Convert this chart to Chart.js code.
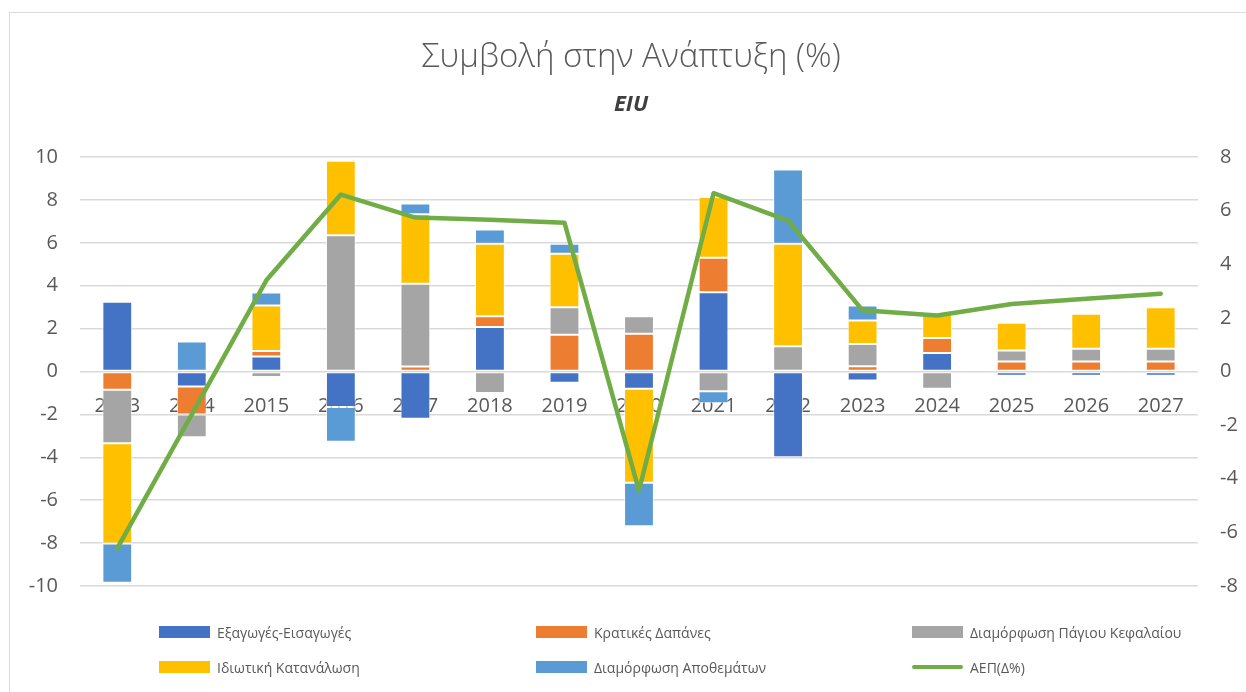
<!DOCTYPE html>
<html>
<head>
<meta charset="utf-8">
<script src="https://cdn.jsdelivr.net/npm/chart.js@4.4.0/dist/chart.umd.min.js"></script>
<style>
  body { margin: 0; background: #fff; font-family: "Open Sans", sans-serif; }
  #wrap { position: relative; width: 1246px; height: 692px; overflow: hidden; }
  #frame { position: absolute; left: 9px; top: 12px; width: 1300px; height: 800px;
           border-left: 1.5px solid #d9d9d9; border-top: 1.5px solid #d9d9d9; pointer-events: none; }
  .lg { position: absolute; height: 20px; display: flex; align-items: center; color: #595959; font-size: 14px; }
  .lg span.box { display: inline-block; width: 51px; height: 12px; margin-right: 7px; }
  .lg span.ln { display: inline-block; width: 51px; height: 4px; border-radius: 2px; margin-right: 7px; }
</style>
</head>
<body>
<div id="wrap">
  <canvas id="growthChart" width="1246" height="692"></canvas>
  <div id="frame"></div>
  <div id="legend"></div>
</div>
<script>
let years = ['2013', '2014', '2015', '2016', '2017', '2018', '2019', '2020', '2021', '2022', '2023', '2024', '2025', '2026', '2027']

let exportsImports = [3.25, -0.7, 0.7, -1.65, -2.2, 2.07, -0.53, -0.8, 3.7, -4.0, -0.42, 0.86, -0.2, -0.2, -0.2]
let govSpending = [-0.85, -1.3, 0.25, 0, 0.23, 0.51, 1.71, 1.76, 1.6, 0, 0.25, 0.7, 0.47, 0.47, 0.47]
let fixedCapital = [-2.5, -1.06, -0.26, 6.35, 3.86, -1.0, 1.29, 0.82, -0.92, 1.18, 1.03, -0.8, 0.51, 0.59, 0.59]
let privateConsumption = [-4.67, -0.05, 2.13, 3.47, 3.24, 3.37, 2.49, -4.39, 2.83, 4.77, 1.1, 1.13, 1.29, 1.63, 1.93]
let inventories = [-1.83, 1.4, 0.6, -1.63, 0.5, 0.67, 0.47, -2.02, -0.56, 3.47, 0.7, 0, 0, 0, 0]
let gdp = [-6.6, -1.6, 3.4, 6.6, 5.74, 5.66, 5.55, -4.44, 6.65, 5.63, 2.28, 2.09, 2.52, 2.71, 2.9]

let leftTicks = [-10, -8, -6, -4, -2, 0, 2, 4, 6, 8, 10]
let rightTicks = [-8, -6, -4, -2, 0, 2, 4, 6, 8]

const grey = '#595959'

function barSet(label, data, color) {
    return {
        type: 'bar',
        label: label,
        data: data,
        backgroundColor: color,
        borderColor: 'rgba(255,255,255,0.7)',
        borderWidth: 1,
        borderSkipped: false,
        yAxisID: 'y',
        order: 1,
        barPercentage: 0.4,
        categoryPercentage: 1
    }
}

var ctx = document.getElementById('growthChart')
var growthChart = new Chart(ctx, {
    data: {
        labels: years,
        datasets: [
            barSet('Εξαγωγές-Εισαγωγές', exportsImports, '#4472c4'),
            barSet('Κρατικές Δαπάνες', govSpending, '#ed7d31'),
            barSet('Διαμόρφωση Πάγιου Κεφαλαίου', fixedCapital, '#a5a5a5'),
            barSet('Ιδιωτική Κατανάλωση', privateConsumption, '#ffc000'),
            barSet('Διαμόρφωση Αποθεμάτων', inventories, '#5b9bd5'),
            {
                type: 'line',
                label: 'ΑΕΠ(Δ%)',
                data: gdp,
                borderColor: '#70ad47',
                backgroundColor: '#70ad47',
                borderWidth: 4.5,
                borderCapStyle: 'round',
                borderJoinStyle: 'round',
                pointRadius: 0,
                tension: 0,
                yAxisID: 'y1',
                order: 0
            }
        ]
    },
    options: {
        responsive: false,
        devicePixelRatio: 1,
        animation: false,
        layout: { padding: { left: 16, right: 0, top: 0, bottom: 106 } },
        plugins: {
            legend: { display: false },
            tooltip: { enabled: false },
            title: {
                display: true,
                text: 'Συμβολή στην Ανάπτυξη (%)',
                color: grey,
                font: { family: 'Open Sans', size: 33, weight: '300', lineHeight: 1.2 },
                padding: { top: 38, bottom: 14 }
            },
            subtitle: {
                display: true,
                text: 'EIU',
                color: '#404040',
                font: { family: 'Open Sans', size: 22, weight: 'bold', style: 'italic', lineHeight: 1.2 },
                padding: { top: 0, bottom: 39 }
            }
        },
        scales: {
            x: {
                stacked: true,
                position: { y: 0 },
                grid: { display: false, drawTicks: false },
                border: { display: false },
                ticks: { color: grey, padding: 23, font: { family: 'Open Sans', size: 20 } }
            },
            y: {
                stacked: true,
                position: 'left',
                min: -10,
                max: 10,
                afterBuildTicks: function (axis) { axis.ticks = leftTicks.map(v => ({ value: v })) },
                afterFit: function (axis) { axis.width = 64 },
                grid: { color: '#d9d9d9', lineWidth: 1.5, drawTicks: false },
                border: { display: false },
                ticks: { color: grey, padding: 22, font: { family: 'Open Sans', size: 20 } }
            },
            y1: {
                position: 'right',
                min: -8,
                max: 8,
                afterBuildTicks: function (axis) { axis.ticks = rightTicks.map(v => ({ value: v })) },
                afterFit: function (axis) { axis.width = 48 },
                grid: { display: false, drawTicks: false },
                border: { display: false },
                ticks: { color: grey, padding: 22, font: { family: 'Open Sans', size: 20 } }
            }
        }
    }
})

// legend laid out in three columns like the original
let legendCols = [159, 536, 912]
let legendRows = [632, 667]
let legendBox = document.getElementById('legend')
growthChart.data.datasets.forEach(function (ds, i) {
    let item = document.createElement('div')
    item.className = 'lg'
    item.style.left = legendCols[i % 3] + 'px'
    item.style.top = (legendRows[Math.floor(i / 3)] - 10) + 'px'
    let mark = document.createElement('span')
    mark.className = ds.type === 'line' ? 'ln' : 'box'
    mark.style.background = ds.type === 'line' ? ds.borderColor : ds.backgroundColor
    item.appendChild(mark)
    item.appendChild(document.createTextNode(ds.label))
    legendBox.appendChild(item)
})
</script>
</body>
</html>
